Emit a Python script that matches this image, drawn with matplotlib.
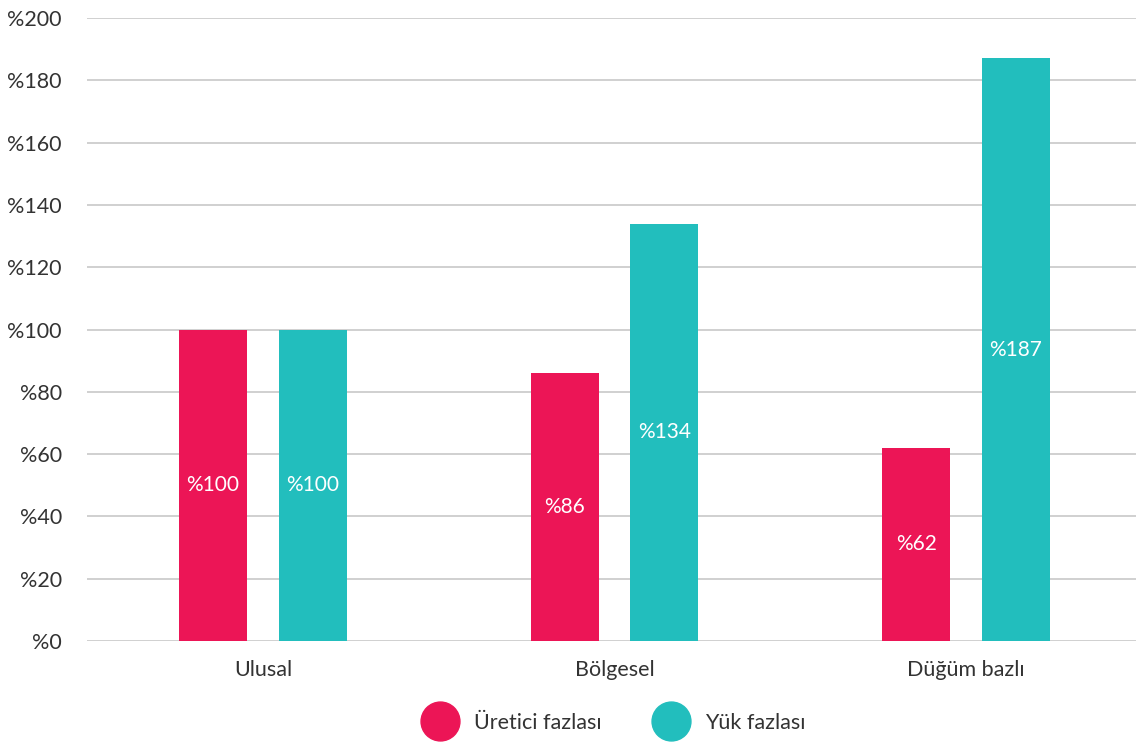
import matplotlib
matplotlib.use("Agg")
import matplotlib.pyplot as plt
from matplotlib.lines import Line2D
import numpy as np

plt.rcParams['font.family'] = ['Lato', 'DejaVu Sans']

categories = ["Ulusal", "Bölgesel", "Düğüm bazlı"]
series_names = ["Üretici fazlası", "Yük fazlası"]
uretici = [100, 86, 62]
yuk = [100, 134, 187]
yticks = list(range(0, 201, 20))
colors = ["#EC1556", "#22BEBD"]

fig = plt.figure(figsize=(11.36, 7.44), dpi=100)
ax = fig.add_axes([87/1136, 1-641/744, 1049/1136, (641-18)/744])

x = np.arange(len(categories))
w = 0.193
off = 0.142
for vals, dx, c in [(uretici, -off, colors[0]), (yuk, off, colors[1])]:
    bars = ax.bar(x + dx, vals, width=w, color=c, zorder=3)
    for b, v in zip(bars, vals):
        ax.text(b.get_x() + b.get_width()/2, v/2, f"%{v}", ha="center", va="center",
                color="white", fontsize=15, zorder=4)

ax.set_xlim(-0.5007, -0.5007 + 1049/351.5)
ax.set_ylim(0, 200)
ax.set_yticks(yticks)
ax.set_yticklabels([f"%{t}" for t in yticks])
ax.set_xticks(x)
ax.set_xticklabels(categories)
ax.grid(axis="y", color="#C8C8C8", linewidth=1.2, zorder=0)
for s in ax.spines.values():
    s.set_visible(False)
ax.tick_params(axis="both", length=0, labelsize=15.5, labelcolor="#333333")
ax.tick_params(axis="y", pad=18)
ax.tick_params(axis="x", pad=14)

handles = [Line2D([], [], marker="o", linestyle="none", markersize=28,
                  markerfacecolor=c, markeredgecolor=c) for c in colors]
fig.legend(handles, series_names, loc="center", bbox_to_anchor=(612/1136, 1-723/744),
           ncol=2, frameon=False, fontsize=15.5, labelcolor="#333333",
           handletextpad=0.6, columnspacing=2.2)

fig.savefig("out.png", dpi=100)
